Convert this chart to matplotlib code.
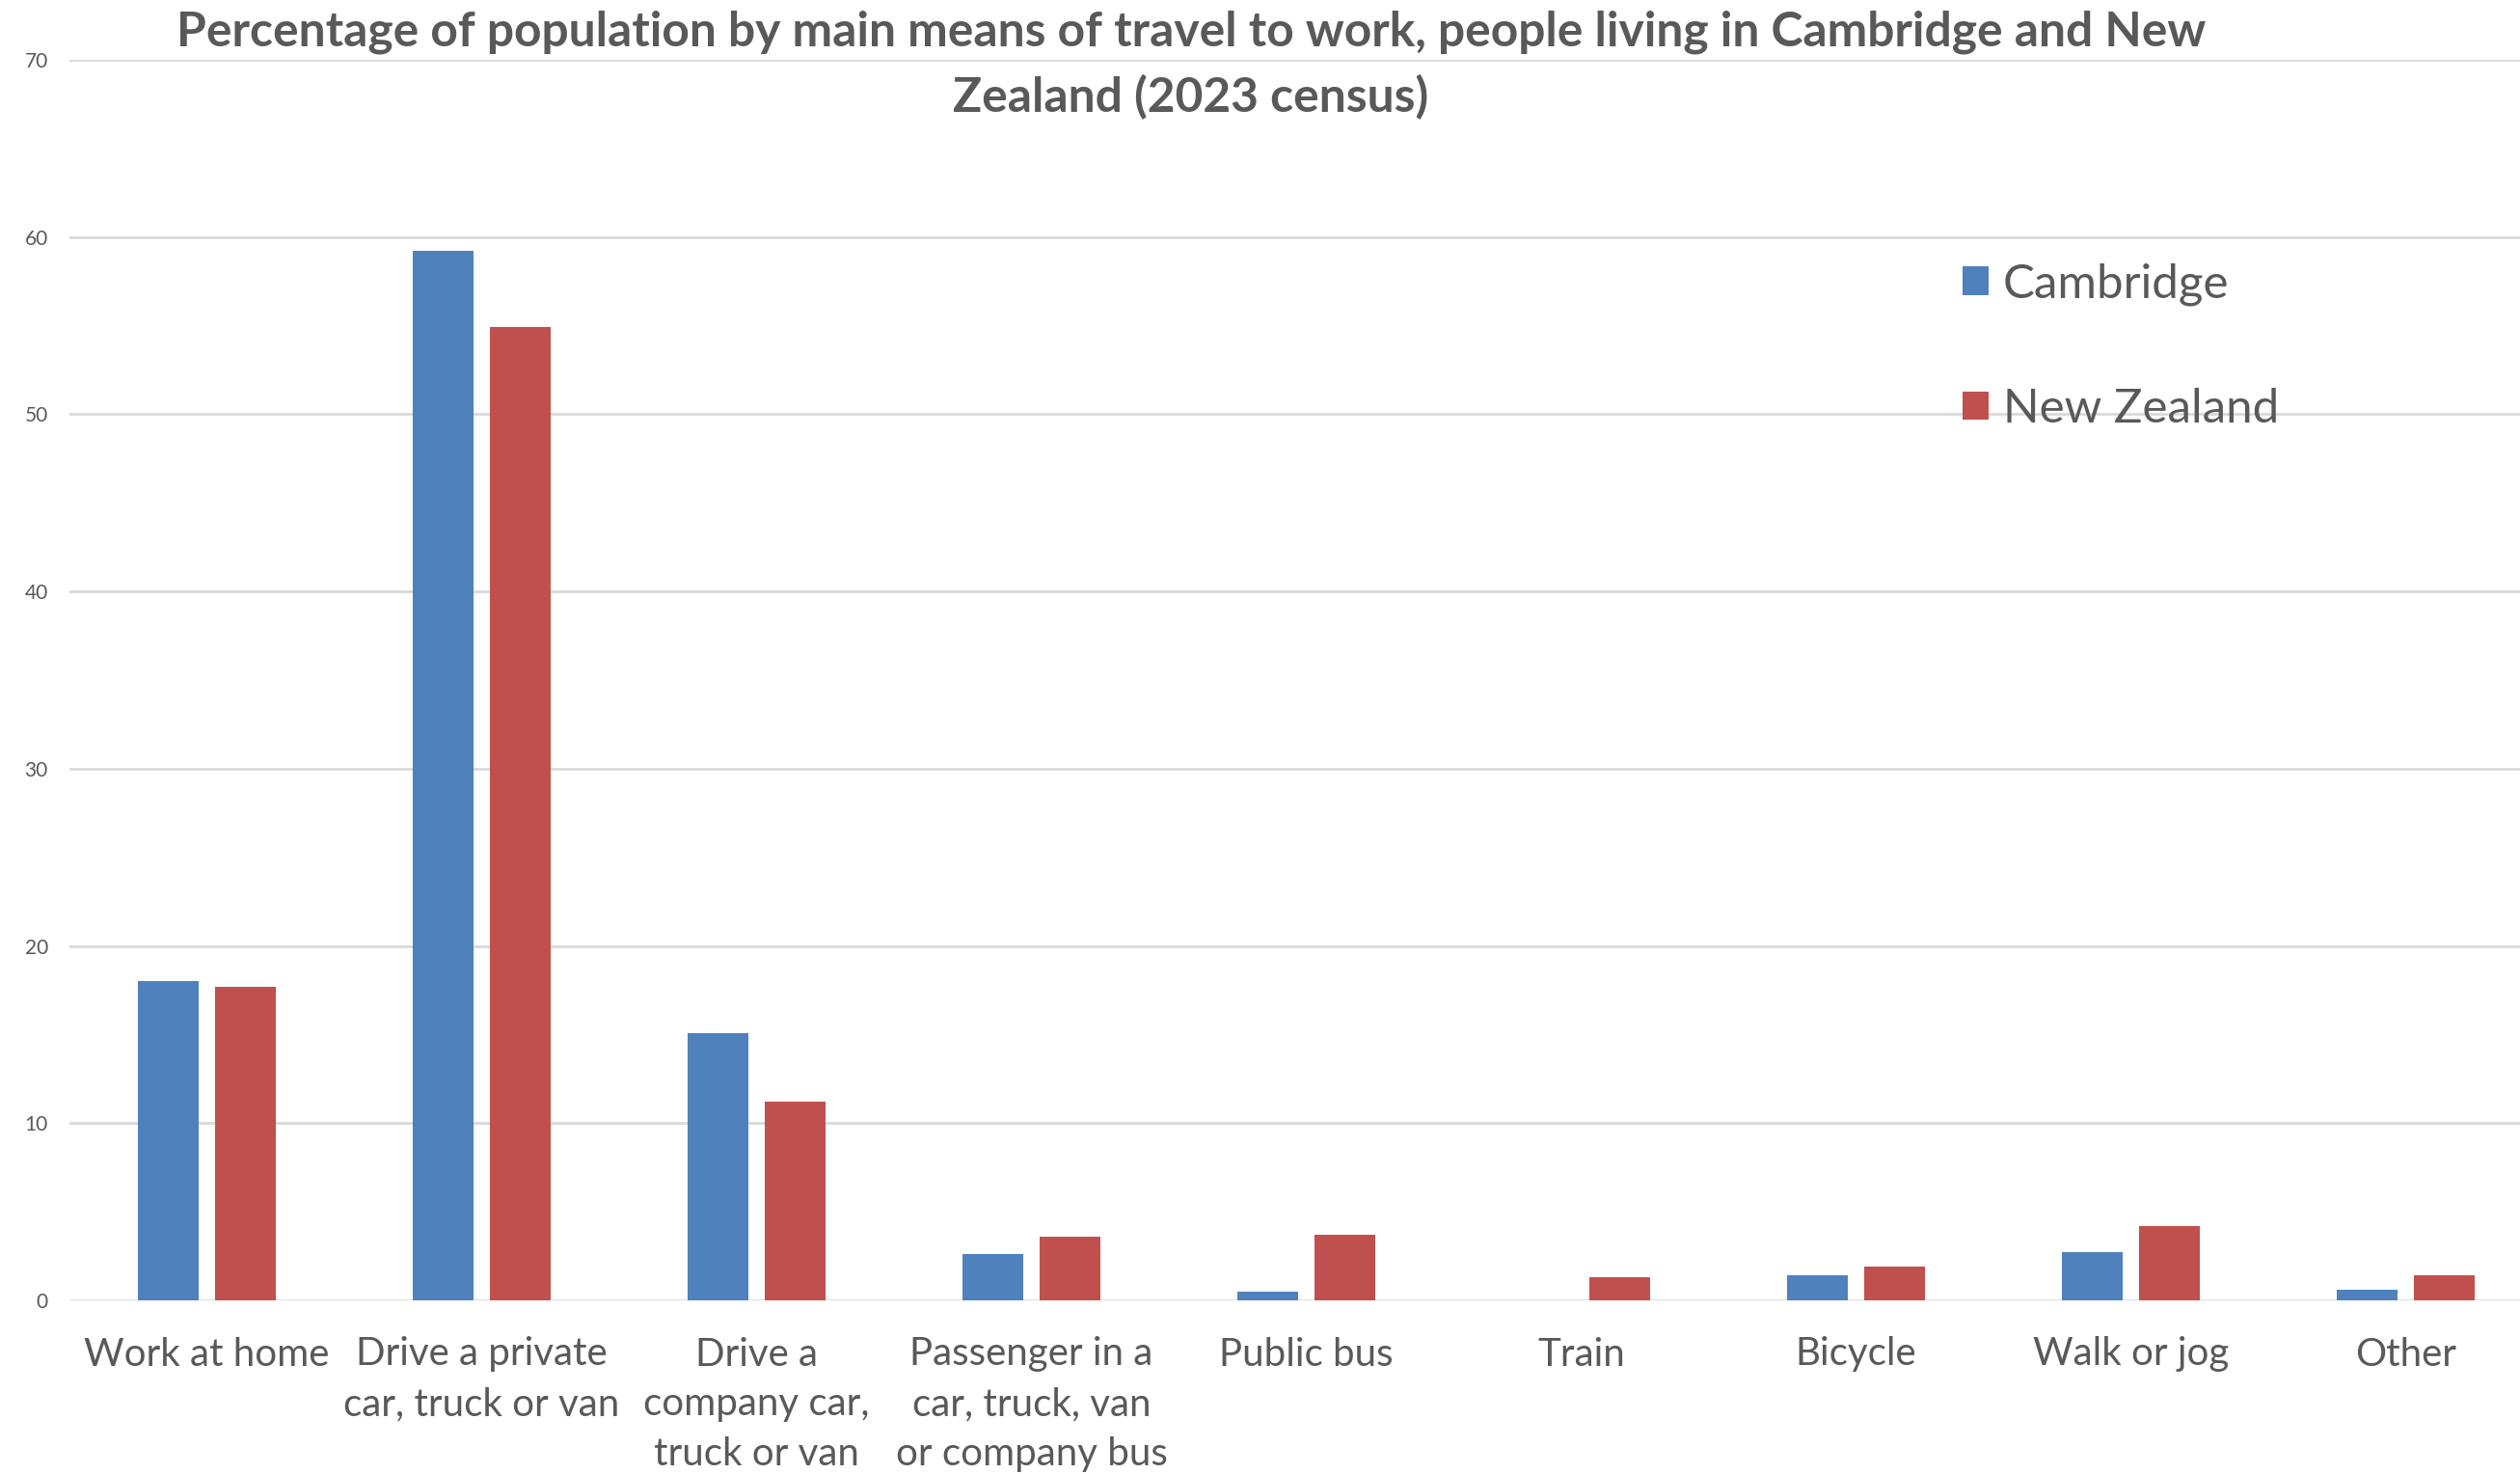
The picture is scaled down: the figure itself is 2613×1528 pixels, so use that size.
import matplotlib
matplotlib.use("Agg")
import matplotlib.pyplot as plt
from matplotlib.patches import Patch
import numpy as np

categories = ["Work at home", "Drive a private\ncar, truck or van", "Drive a\ncompany car,\ntruck or van",
              "Passenger in a\ncar, truck, van\nor company bus", "Public bus", "Train", "Bicycle",
              "Walk or jog", "Other"]
cambridge = [18.0, 59.2, 15.1, 2.6, 0.5, 0.0, 1.4, 2.7, 0.6]
new_zealand = [17.7, 54.9, 11.2, 3.6, 3.7, 1.3, 1.9, 4.2, 1.4]
series_names = ["Cambridge", "New Zealand"]
yticks = [0, 10, 20, 30, 40, 50, 60, 70]
title = ("Percentage of population by main means of travel to work, people living in Cambridge and New\n"
         "Zealand (2023 census)")

W, H, DPI = 2613, 1528, 100
FONT = "Lato"
TXT = "#595959"
BLUE = "#4F81BD"
RED = "#C0504D"
GRID = "#D9D9D9"

plt.rcParams['font.family'] = [FONT, 'DejaVu Sans']
fig = plt.figure(figsize=(W / DPI, H / DPI), dpi=DPI)
ax = fig.add_axes([72 / W, 1 - 1348 / H, 2565 / W, (1348 - 62) / H])

x = np.arange(len(categories))
bw = 0.222
off = 0.14
ax.bar(x - off, cambridge, bw, color=BLUE, label=series_names[0], zorder=3)
ax.bar(x + off, new_zealand, bw, color=RED, label=series_names[1], zorder=3)

ax.set_xlim(-0.5, len(categories) - 0.5)
ax.set_ylim(0, 70)
ax.set_yticks(yticks)
ax.set_yticklabels([str(v) for v in yticks])
ax.yaxis.grid(True, color=GRID, linewidth=2, zorder=0)
ax.set_axisbelow(True)
for s in ax.spines.values():
    s.set_visible(False)
ax.tick_params(axis='both', length=0)
ax.tick_params(axis='y', labelsize=15, labelcolor=TXT, pad=16)
ax.set_xticks(x)
ax.set_xticklabels(categories, fontsize=29, color=TXT, linespacing=1.49)
ax.tick_params(axis='x', pad=27)

t = fig.text(1235 / W, 1 - 11 / H, title, ha='center', va='top', fontsize=35.8,
             fontweight='bold', color=TXT, linespacing=1.52)

handles = [Patch(facecolor=BLUE), Patch(facecolor=RED)]
leg = fig.legend(handles, series_names, loc='upper left', bbox_to_anchor=(2015 / W, 1 - 253 / H),
                 frameon=False, fontsize=35.5, labelcolor=TXT, handlelength=0.55, handleheight=0.55,
                 handletextpad=0.3, labelspacing=1.72, borderaxespad=0)

fig.savefig("out.png", dpi=DPI)
